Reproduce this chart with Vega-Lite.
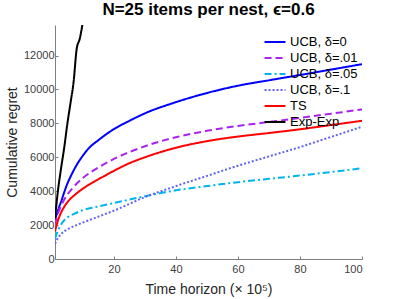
{
  "$schema": "https://vega.github.io/schema/vega-lite/v6.json",
  "width": 307,
  "height": 234,
  "autosize": {"type": "none"},
  "padding": {"left": 55, "top": 25, "right": 37, "bottom": 40},
  "background": "white",
  "config": {
    "view": {"stroke": null},
    "font": "Liberation Sans",
    "axis": {
      "domainColor": "#808080",
      "tickColor": "#808080",
      "labelColor": "#404040",
      "titleColor": "#262626",
      "labelFont": "Liberation Sans",
      "titleFont": "Liberation Sans",
      "labelFontSize": 11,
      "titleFontSize": 14,
      "titleFontWeight": "normal",
      "grid": false,
      "tickSize": -3,
      "domainWidth": 1
    }
  },
  "title": {
    "text": "N=25 items per nest, ϵ=0.6",
    "fontSize": 17,
    "fontWeight": "bold",
    "font": "Liberation Sans",
    "color": "#000000",
    "anchor": "middle",
    "offset": 6
  },
  "data": {
    "values": [
      {"x": 1, "v": 2300, "s": "UCB, δ=0"},
      {"x": 2, "v": 2900, "s": "UCB, δ=0"},
      {"x": 3, "v": 3400, "s": "UCB, δ=0"},
      {"x": 4, "v": 3950, "s": "UCB, δ=0"},
      {"x": 5, "v": 4450, "s": "UCB, δ=0"},
      {"x": 6, "v": 4850, "s": "UCB, δ=0"},
      {"x": 8, "v": 5550, "s": "UCB, δ=0"},
      {"x": 10, "v": 6100, "s": "UCB, δ=0"},
      {"x": 12, "v": 6550, "s": "UCB, δ=0"},
      {"x": 15, "v": 7010, "s": "UCB, δ=0"},
      {"x": 20, "v": 7660, "s": "UCB, δ=0"},
      {"x": 25, "v": 8150, "s": "UCB, δ=0"},
      {"x": 30, "v": 8590, "s": "UCB, δ=0"},
      {"x": 40, "v": 9250, "s": "UCB, δ=0"},
      {"x": 50, "v": 9790, "s": "UCB, δ=0"},
      {"x": 60, "v": 10220, "s": "UCB, δ=0"},
      {"x": 70, "v": 10540, "s": "UCB, δ=0"},
      {"x": 80, "v": 10850, "s": "UCB, δ=0"},
      {"x": 90, "v": 11170, "s": "UCB, δ=0"},
      {"x": 100, "v": 11490, "s": "UCB, δ=0"},
      {"x": 1, "v": 2050, "s": "UCB, δ=.01"},
      {"x": 2, "v": 2700, "s": "UCB, δ=.01"},
      {"x": 3, "v": 3150, "s": "UCB, δ=.01"},
      {"x": 5, "v": 3800, "s": "UCB, δ=.01"},
      {"x": 7, "v": 4250, "s": "UCB, δ=.01"},
      {"x": 10, "v": 4780, "s": "UCB, δ=.01"},
      {"x": 15, "v": 5400, "s": "UCB, δ=.01"},
      {"x": 20, "v": 5900, "s": "UCB, δ=.01"},
      {"x": 30, "v": 6650, "s": "UCB, δ=.01"},
      {"x": 40, "v": 7180, "s": "UCB, δ=.01"},
      {"x": 50, "v": 7560, "s": "UCB, δ=.01"},
      {"x": 60, "v": 7850, "s": "UCB, δ=.01"},
      {"x": 70, "v": 8080, "s": "UCB, δ=.01"},
      {"x": 80, "v": 8320, "s": "UCB, δ=.01"},
      {"x": 90, "v": 8570, "s": "UCB, δ=.01"},
      {"x": 100, "v": 8820, "s": "UCB, δ=.01"},
      {"x": 1, "v": 1200, "s": "UCB, δ=.05"},
      {"x": 2, "v": 1700, "s": "UCB, δ=.05"},
      {"x": 3, "v": 2050, "s": "UCB, δ=.05"},
      {"x": 5, "v": 2450, "s": "UCB, δ=.05"},
      {"x": 7, "v": 2650, "s": "UCB, δ=.05"},
      {"x": 10, "v": 2880, "s": "UCB, δ=.05"},
      {"x": 15, "v": 3100, "s": "UCB, δ=.05"},
      {"x": 20, "v": 3300, "s": "UCB, δ=.05"},
      {"x": 30, "v": 3700, "s": "UCB, δ=.05"},
      {"x": 40, "v": 4050, "s": "UCB, δ=.05"},
      {"x": 50, "v": 4300, "s": "UCB, δ=.05"},
      {"x": 60, "v": 4530, "s": "UCB, δ=.05"},
      {"x": 70, "v": 4730, "s": "UCB, δ=.05"},
      {"x": 80, "v": 4920, "s": "UCB, δ=.05"},
      {"x": 90, "v": 5130, "s": "UCB, δ=.05"},
      {"x": 100, "v": 5350, "s": "UCB, δ=.05"},
      {"x": 1, "v": 900, "s": "UCB, δ=.1"},
      {"x": 2, "v": 1250, "s": "UCB, δ=.1"},
      {"x": 3, "v": 1480, "s": "UCB, δ=.1"},
      {"x": 5, "v": 1750, "s": "UCB, δ=.1"},
      {"x": 7, "v": 1930, "s": "UCB, δ=.1"},
      {"x": 10, "v": 2150, "s": "UCB, δ=.1"},
      {"x": 15, "v": 2500, "s": "UCB, δ=.1"},
      {"x": 20, "v": 2850, "s": "UCB, δ=.1"},
      {"x": 30, "v": 3650, "s": "UCB, δ=.1"},
      {"x": 40, "v": 4300, "s": "UCB, δ=.1"},
      {"x": 50, "v": 4900, "s": "UCB, δ=.1"},
      {"x": 60, "v": 5500, "s": "UCB, δ=.1"},
      {"x": 70, "v": 6050, "s": "UCB, δ=.1"},
      {"x": 80, "v": 6600, "s": "UCB, δ=.1"},
      {"x": 90, "v": 7200, "s": "UCB, δ=.1"},
      {"x": 100, "v": 7800, "s": "UCB, δ=.1"},
      {"x": 1, "v": 1620, "s": "TS"},
      {"x": 2, "v": 2300, "s": "TS"},
      {"x": 3, "v": 2750, "s": "TS"},
      {"x": 5, "v": 3350, "s": "TS"},
      {"x": 7.5, "v": 3800, "s": "TS"},
      {"x": 10, "v": 4150, "s": "TS"},
      {"x": 15, "v": 4700, "s": "TS"},
      {"x": 20, "v": 5200, "s": "TS"},
      {"x": 25, "v": 5650, "s": "TS"},
      {"x": 30, "v": 6000, "s": "TS"},
      {"x": 40, "v": 6560, "s": "TS"},
      {"x": 50, "v": 6950, "s": "TS"},
      {"x": 60, "v": 7220, "s": "TS"},
      {"x": 70, "v": 7430, "s": "TS"},
      {"x": 80, "v": 7650, "s": "TS"},
      {"x": 90, "v": 7900, "s": "TS"},
      {"x": 100, "v": 8150, "s": "TS"},
      {"x": 1, "v": 2400, "s": "Exp-Exp"},
      {"x": 2, "v": 4100, "s": "Exp-Exp"},
      {"x": 3, "v": 5400, "s": "Exp-Exp"},
      {"x": 4, "v": 6600, "s": "Exp-Exp"},
      {"x": 5, "v": 8000, "s": "Exp-Exp"},
      {"x": 6, "v": 9200, "s": "Exp-Exp"},
      {"x": 7, "v": 10450, "s": "Exp-Exp"},
      {"x": 8, "v": 12400, "s": "Exp-Exp"},
      {"x": 9, "v": 13000, "s": "Exp-Exp"},
      {"x": 10, "v": 14000, "s": "Exp-Exp"}
    ]
  },
  "mark": {"type": "line", "clip": true, "strokeWidth": 2, "interpolate": "monotone"},
  "encoding": {
    "x": {
      "field": "x",
      "type": "quantitative",
      "scale": {"domain": [1, 100], "nice": false, "zero": false},
      "axis": {"values": [20, 40, 60, 80, 100], "title": "Time horizon (× 10⁵)", "labelPadding": 7, "titlePadding": 8}
    },
    "y": {
      "field": "v",
      "type": "quantitative",
      "scale": {"domain": [0, 13800], "nice": false},
      "axis": {"values": [0, 2000, 4000, 6000, 8000, 10000, 12000], "title": "Cumulative regret", "labelPadding": 4, "titlePadding": 4, "format": "d"}
    },
    "color": {
      "field": "s",
      "type": "nominal",
      "scale": {
        "domain": ["UCB, δ=0", "UCB, δ=.01", "UCB, δ=.05", "UCB, δ=.1", "TS", "Exp-Exp"],
        "range": ["#0000ff", "#aa22ee", "#00b4f0", "#6262f2", "#ff0000", "#000000"]
      },
      "legend": {
        "title": null,
        "orient": "none",
        "legendX": 211,
        "legendY": 8,
        "symbolType": "M-1.35,0H1.35",
        "symbolSize": 240,
        "symbolStrokeWidth": 2,
        "labelFont": "Liberation Sans",
        "labelFontSize": 13,
        "labelColor": "#000000",
        "labelOffset": 6,
        "rowPadding": 0,
        "padding": 0
      }
    },
    "strokeDash": {
      "field": "s",
      "type": "nominal",
      "scale": {
        "domain": ["UCB, δ=0", "UCB, δ=.01", "UCB, δ=.05", "UCB, δ=.1", "TS", "Exp-Exp"],
        "range": [[1, 0], [7, 4], [7, 3, 2, 3], [2, 2], [1, 0], [1, 0]]
      }
    }
  }
}
